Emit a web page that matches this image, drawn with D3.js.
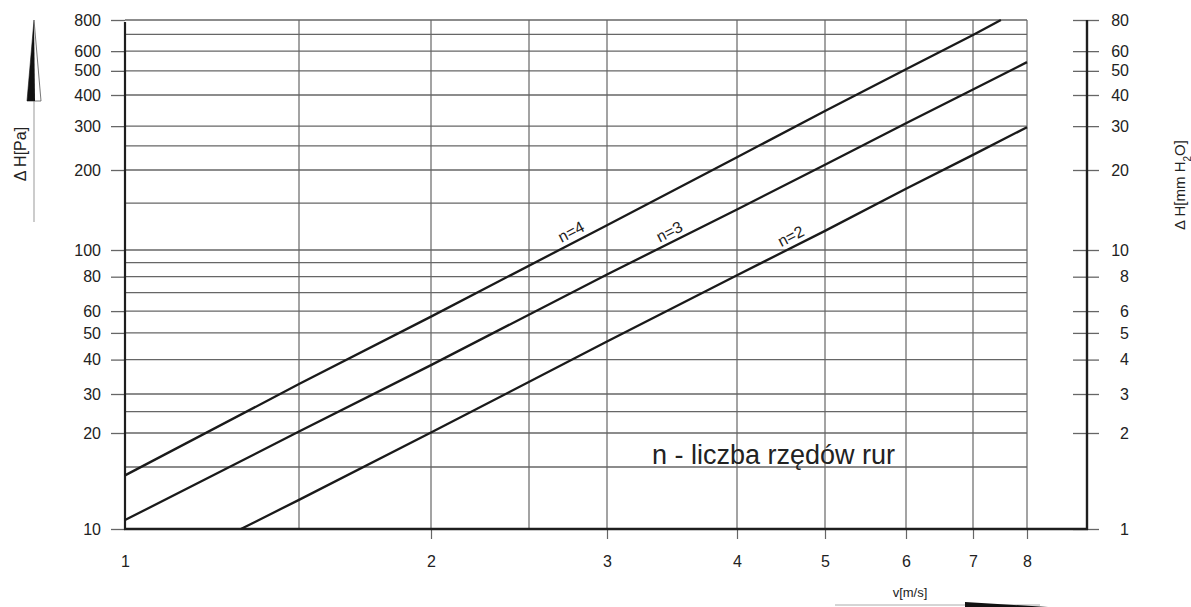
<!DOCTYPE html>
<html><head><meta charset="utf-8">
<script src="https://cdn.jsdelivr.net/npm/d3@7"></script>
<style>
html,body{margin:0;padding:0;background:#fff;}
svg{display:block;font-family:"Liberation Sans",Arial,sans-serif;}
</style></head>
<body>
<svg id="chart" width="1191" height="607"></svg>
<script>
// ---------- data ----------
const vTicks = [1, 2, 3, 4, 5, 6, 7, 8];
const vGrid = [1.5, 2, 2.5, 3, 4, 5, 6, 7, 8];
const paTicks = [10, 20, 30, 40, 50, 60, 80, 100, 200, 300, 400, 500, 600, 800];
const paMinor = [15, 25, 70, 90, 150, 250, 700];
const mmTicks = [1, 2, 3, 4, 5, 6, 8, 10, 20, 30, 40, 50, 60, 80];

const seriesNames = ["n=2", "n=3", "n=4"];
const n2V = [1.31, 1.5, 2, 3, 4, 5, 6, 7, 8];
const n2H = [10, 12.1, 20.1, 46.5, 81, 118, 170, 230, 297];
const n3V = [1, 1.5, 2, 3, 4, 5, 6, 7, 8];
const n3H = [10.6, 20.3, 38.2, 81.5, 142, 210, 308, 421, 542];
const n4V = [1, 1.5, 2, 3, 4, 5, 6, 7, 7.5];
const n4H = [14.2, 32.6, 57.3, 124, 225, 345, 507, 696, 800];
// label anchor points on each line (v, ΔH)
const labelV = [4.64, 3.48, 2.79];
const labelH = [104, 108, 108];

const noteText = "n - liczba rzędów rur";

// ---------- layout ----------
const svg = d3.select("#chart");
const xL = 125, xR = 1027, xRA = 1087, yT = 20, yB = 529;

// the printed nomogram's scales are slightly non-uniform: piecewise log scales
const x = d3.scaleLog()
  .domain([1, 1.5, 2, 2.5, 3, 4, 5, 6, 7, 8])
  .range([125, 299, 431, 529, 607, 737, 825, 906, 973, 1027]);
const y = d3.scaleLog()
  .domain([10, 15, 20, 30, 100, 200, 800])
  .range([529, 467, 433, 394, 250, 170, 20]);
const yMm = y.copy().domain(y.domain().map(d => d / 10));

const gridColor = "#666";
const textColor = "#222";
const tickFont = "16px";

// horizontal grid
const gGrid = svg.append("g");
gGrid.selectAll("line.h").data(paTicks.concat(paMinor).filter(d => d > 10)).join("line")
  .attr("x1", xL).attr("x2", xR)
  .attr("y1", d => y(d)).attr("y2", d => y(d))
  .attr("stroke", gridColor).attr("stroke-width", 1.3);
// vertical grid
gGrid.selectAll("line.v").data(vGrid).join("line")
  .attr("x1", d => x(d)).attr("x2", d => x(d))
  .attr("y1", yT).attr("y2", yB)
  .attr("stroke", gridColor).attr("stroke-width", 1.2);

// left axis
const axL = svg.append("g").attr("transform", `translate(${xL},0)`)
  .call(d3.axisLeft(y).tickValues(paTicks).tickSize(14).tickPadding(10).tickFormat(d3.format("d")));
axL.select(".domain").remove();
axL.selectAll(".tick line").attr("stroke", gridColor).attr("stroke-width", 1.3);
axL.selectAll(".tick text").attr("fill", textColor).style("font-size", tickFont).style("font-family", "Liberation Sans, Arial, sans-serif");

// bottom axis
const axB = svg.append("g").attr("transform", `translate(0,${yB})`)
  .call(d3.axisBottom(x).tickValues(vTicks).tickSize(10).tickPadding(17).tickFormat(d3.format("d")));
axB.select(".domain").remove();
axB.selectAll(".tick line").attr("stroke", gridColor).attr("stroke-width", 1.2)
  .attr("opacity", d => d === 1 ? 0 : 1);
axB.selectAll(".tick text").attr("fill", textColor).style("font-size", tickFont).style("font-family", "Liberation Sans, Arial, sans-serif");

// right axis (mm H2O)
const axR = svg.append("g").attr("transform", `translate(${xRA},0)`)
  .call(d3.axisRight(yMm).tickValues(mmTicks).tickSize(12).tickPadding(9).tickFormat(d3.format("d")));
axR.select(".domain").remove();
axR.selectAll(".tick line").attr("x1", -14).attr("x2", 12).attr("stroke", gridColor).attr("stroke-width", 1.3);
axR.selectAll(".tick text").attr("fill", textColor).attr("text-anchor", "end").attr("x", 42)
  .style("font-size", tickFont).style("font-family", "Liberation Sans, Arial, sans-serif");

// frame lines
const frame = svg.append("g").attr("stroke", "#1e1e1e").attr("fill", "none");
frame.append("line").attr("x1", xL).attr("x2", xL).attr("y1", y(800) + 2).attr("y2", yB + 1).attr("stroke-width", 2.2);
frame.append("line").attr("x1", xL - 1).attr("x2", xRA + 1).attr("y1", yB).attr("y2", yB).attr("stroke-width", 2.4);
frame.append("line").attr("x1", xRA).attr("x2", xRA).attr("y1", y(800)).attr("y2", yB + 1).attr("stroke-width", 2.4);

// series lines
const series = [
  n2V.map((v, i) => [v, n2H[i]]),
  n3V.map((v, i) => [v, n3H[i]]),
  n4V.map((v, i) => [v, n4H[i]])
];
const line = d3.line().x(d => x(d[0])).y(d => y(d[1]));
svg.append("g").selectAll("path").data(series).join("path")
  .attr("d", line).attr("fill", "none").attr("stroke", "#1a1a1a").attr("stroke-width", 2.3)
  .attr("stroke-linejoin", "round");

// line labels
seriesNames.forEach((name, i) => {
  const s = series[i];
  const a = s[0], b = s[s.length - 1];
  const ang = Math.atan2(y(b[1]) - y(a[1]), x(b[0]) - x(a[0])) * 180 / Math.PI;
  const px = x(labelV[i]), py = y(labelH[i]);
  svg.append("text").attr("transform", `translate(${px},${py}) rotate(${ang})`)
    .attr("y", -5).attr("text-anchor", "middle").attr("fill", textColor)
    .style("font-size", "16px").text(name);
});

// note
svg.append("text").attr("x", 652).attr("y", 464).attr("fill", "#222")
  .style("font-size", "27px").text(noteText);

// left axis title with arrow
svg.append("text").attr("transform", "translate(26,154) rotate(-90)")
  .attr("text-anchor", "middle").attr("fill", textColor).style("font-size", "16px").text("Δ H[Pa]");
svg.append("line").attr("x1", 34).attr("x2", 34).attr("y1", 101).attr("y2", 222)
  .attr("stroke", "#999").attr("stroke-width", 1);
svg.append("path").attr("d", "M34,20 L27,101 L41,101 Z").attr("fill", "#fff").attr("stroke", "#555").attr("stroke-width", 0.8);
svg.append("path").attr("d", "M34,20 L27,101 L35,101 Z").attr("fill", "#111");

// right axis title
svg.append("text").attr("transform", "translate(1185,185) rotate(-90)")
  .attr("text-anchor", "middle").attr("fill", textColor).style("font-size", "15px")
  .html("Δ H[mm H<tspan baseline-shift='sub' font-size='10px'>2</tspan>O]");

// x axis title with arrow
svg.append("text").attr("x", 910).attr("y", 597).attr("text-anchor", "middle")
  .attr("fill", textColor).style("font-size", "13px").text("v[m/s]");
svg.append("line").attr("x1", 835).attr("x2", 1040).attr("y1", 605).attr("y2", 605)
  .attr("stroke", "#aaa").attr("stroke-width", 1);
svg.append("path").attr("d", "M965,602 L1048,607 L965,613 Z").attr("fill", "#111");
</script>
</body></html>
